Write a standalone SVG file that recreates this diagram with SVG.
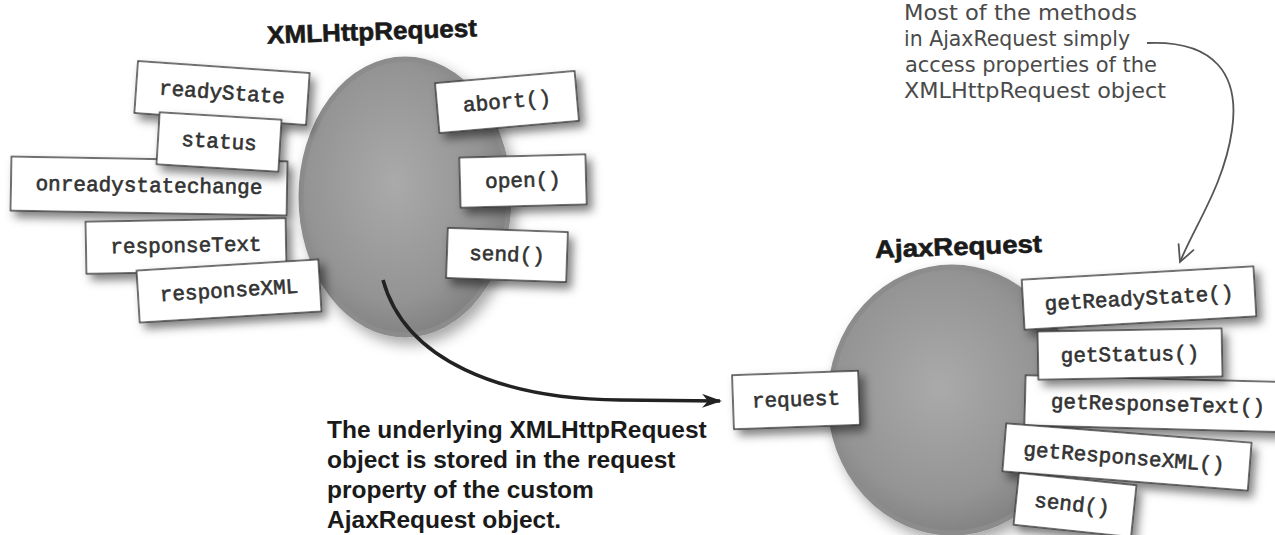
<svg xmlns="http://www.w3.org/2000/svg" width="1275" height="535" viewBox="0 0 1275 535">
<defs>
<radialGradient id="blobGrad" cx="0.45" cy="0.45" r="0.6">
<stop offset="0" stop-color="#aaaaaa"/>
<stop offset="0.7" stop-color="#949494"/>
<stop offset="1" stop-color="#7d7d7d"/>
</radialGradient>
<filter id="shadow" x="-20%" y="-30%" width="150%" height="180%">
<feDropShadow dx="5" dy="6" stdDeviation="5" flood-color="#000" flood-opacity="0.5"/>
</filter>
<filter id="blobShadow" x="-20%" y="-20%" width="150%" height="150%">
<feDropShadow dx="5" dy="7" stdDeviation="7" flood-color="#000" flood-opacity="0.35"/>
</filter>
<marker id="arrowFill" viewBox="0 0 20 14" refX="18" refY="7" markerWidth="20" markerHeight="14" markerUnits="userSpaceOnUse" orient="auto">
<path d="M0,0 L20,7 L0,14 L6,7 Z" fill="#222"/>
</marker>
<marker id="arrowOpen" viewBox="0 0 20 20" refX="18" refY="10" markerWidth="20" markerHeight="20" markerUnits="userSpaceOnUse" orient="auto">
<path d="M2,2 L18,10 L2,18" fill="none" stroke="#555" stroke-width="1.8" stroke-linecap="round"/>
</marker>
</defs>
<style>
.box rect{fill:#fff;stroke:#333;stroke-width:1.4;filter:url(#shadow)}
.box text{font-family:"Liberation Mono","Courier New",monospace;font-size:21px;fill:#333;stroke:#333;stroke-width:0.6;text-anchor:middle}
.title{font-family:"Liberation Sans",Arial,sans-serif;font-weight:bold;font-size:25px;fill:#1a1a1a;stroke:#1a1a1a;stroke-width:0.6}
.note{font-family:"Liberation Sans",Arial,sans-serif;font-weight:bold;font-size:24.5px;fill:#1a1a1a}
.hand{font-family:"DejaVu Sans Condensed","DejaVu Sans",sans-serif;font-size:21px;fill:#4a4a4a}
.blob{fill:url(#blobGrad);stroke:#8c8c8c;stroke-width:5;filter:url(#blobShadow)}
</style>
<rect width="1275" height="535" fill="#fff"/>

<g id="xmlhttprequest">
<text class="title" x="267" y="40" textLength="210" lengthAdjust="spacingAndGlyphs" transform="rotate(-2 372 32)">XMLHttpRequest</text>
<ellipse class="blob" cx="405" cy="197" rx="104" ry="138"/>
</g>
<g id="readyState" class="box" transform="translate(222 93) rotate(4)"><rect x="-86" y="-26" width="172" height="52"/><text x="0" y="6">readyState</text></g>
<g id="onreadystatechange" class="box" transform="translate(149 186) rotate(1)"><rect x="-138" y="-27" width="276" height="54"/><text x="0" y="6">onreadystatechange</text></g>
<g id="status" class="box" transform="translate(219 142) rotate(3.5)"><rect x="-61" y="-26" width="122" height="52"/><text x="0" y="6">status</text></g>
<g id="responseText" class="box" transform="translate(186 246) rotate(-1)"><rect x="-100" y="-26" width="200" height="52"/><text x="0" y="6">responseText</text></g>
<g id="responseXML" class="box" transform="translate(229 291) rotate(-3.5)"><rect x="-91" y="-26" width="182" height="52"/><text x="0" y="6">responseXML</text></g>
<g id="abort" class="box" transform="translate(507 102) rotate(-5)"><rect x="-70" y="-25" width="140" height="50"/><text x="0" y="6">abort()</text></g>
<g id="open" class="box" transform="translate(523 181) rotate(-1.5)"><rect x="-63" y="-25" width="126" height="50"/><text x="0" y="6">open()</text></g>
<g id="send1" class="box" transform="translate(507 255) rotate(2)"><rect x="-60" y="-25" width="120" height="50"/><text x="0" y="6">send()</text></g>

<g id="ajaxrequest">
<text class="title" x="875" y="255" textLength="167" lengthAdjust="spacingAndGlyphs" transform="rotate(-2 958 246)">AjaxRequest</text>
<ellipse class="blob" cx="952" cy="400" rx="122" ry="133"/>
</g>
<g id="request" class="box" transform="translate(796 400) rotate(-2)"><rect x="-63" y="-27" width="126" height="54"/><text x="0" y="6">request</text></g>
<g id="getReadyState" class="box" transform="translate(1139 298) rotate(-3.3)"><rect x="-116" y="-25" width="232" height="50"/><text x="0" y="7">getReadyState()</text></g>
<g id="getResponseText" class="box" transform="translate(1166 404) rotate(1.5)"><rect x="-141" y="-25" width="282" height="50"/><text x="-8" y="7">getResponseText()</text></g>
<g id="getStatus" class="box" transform="translate(1130 354) rotate(-1)"><rect x="-92" y="-24" width="184" height="48"/><text x="0" y="7">getStatus()</text></g>
<g id="getResponseXML" class="box" transform="translate(1127 457) rotate(4.5)"><rect x="-123" y="-24" width="246" height="48"/><text x="-3" y="7">getResponseXML()</text></g>
<g id="send2" class="box" transform="translate(1075 505) rotate(6)"><rect x="-59" y="-26" width="118" height="52"/><text x="-3" y="6">send()</text></g>

<g id="connectors">
<path d="M383,280 C405,360 500,399 620,400 L720,401" fill="none" stroke="#222" stroke-width="3.5" marker-end="url(#arrowFill)"/>
<path d="M1147,43 C1215,40 1240,75 1232,130 C1224,185 1195,225 1180,262" fill="none" stroke="#555" stroke-width="1.8" marker-end="url(#arrowOpen)"/>
</g>

<g id="note-bottom">
<text class="note" x="327" y="438">The underlying XMLHttpRequest</text>
<text class="note" x="327" y="468">object is stored in the request</text>
<text class="note" x="327" y="498">property of the custom</text>
<text class="note" x="327" y="528">AjaxRequest object.</text>
</g>
<g id="note-top">
<text class="hand" x="904" y="20" textLength="233" lengthAdjust="spacingAndGlyphs">Most of the methods</text>
<text class="hand" x="904" y="46" textLength="226" lengthAdjust="spacingAndGlyphs">in AjaxRequest simply</text>
<text class="hand" x="905" y="72" textLength="252" lengthAdjust="spacingAndGlyphs">access properties of the</text>
<text class="hand" x="904" y="98" textLength="262" lengthAdjust="spacingAndGlyphs">XMLHttpRequest object</text>
</g>
</svg>
